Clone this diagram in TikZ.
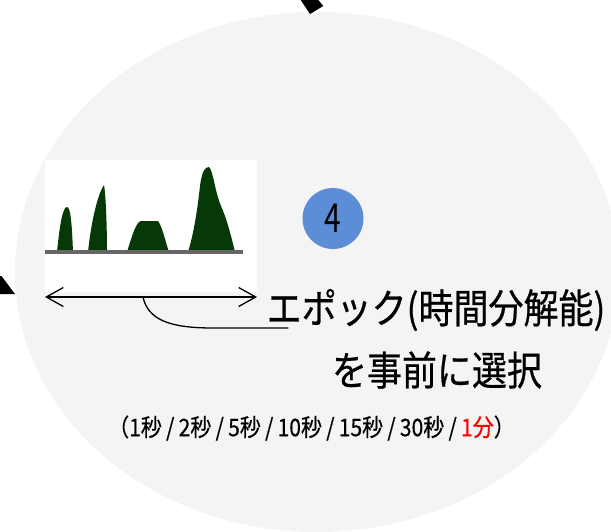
\documentclass[tikz,border=0pt]{standalone}
\usepackage{fontspec}
\usetikzlibrary{arrows.meta,shapes.geometric}
\newfontfamily\jp[FakeBold=0.6]{Noto Sans CJK JP}
\newfontfamily\jpthin{Noto Sans CJK JP}
\definecolor{bg}{HTML}{F4F4F4}
\definecolor{peak}{HTML}{073807}
\definecolor{badge}{HTML}{5B8ED6}
\definecolor{axis}{HTML}{666666}
\newcommand{\tallbox}[1]{\scalebox{1}[1.15]{#1}}
\newcommand{\myslash}{\hspace{4.3pt}/\hspace{4.3pt}}
\tikzset{
  peakfill/.style={fill=peak},
  bigtext/.style={font=\jp\fontsize{35}{40}\selectfont, inner sep=0pt},
  smalltext/.style={font=\jp\fontsize{21}{24}\selectfont, inner sep=0pt},
  badgestyle/.style={circle, fill=badge, minimum size=61pt, inner sep=0pt, font=\jpthin\fontsize{40}{44}\selectfont},
  openarrow/.style={{Straight Barb[length=17pt,width=19pt]}-{Straight Barb[length=17pt,width=19pt]}, line width=1.3pt},
}
\begin{document}
\begin{tikzpicture}[x=1pt,y=-1pt]
\useasboundingbox (0,0) rectangle (611,531);
% background disc
\fill[bg] (317,272) ellipse [x radius=302, y radius=260];
% clipped black arrow parts
\fill[black] (300.7,0) -- (318.3,0) -- (323.3,6) -- (310,14) -- cycle;
\fill[black] (0,276) -- (1.5,276) -- (15,294) -- (0,294) -- cycle;
% chart panel
\node[fill=white, minimum width=212pt, minimum height=132pt, inner sep=0pt, anchor=north west] (chart) at (45,160) {};
\fill[peakfill] (57,252) .. controls (60,222) and (63,207) .. (67,207) .. controls (71,207) and (72,228) .. (73,252) -- cycle;
\fill[peakfill] (88,252) .. controls (92,215) and (99,192) .. (104,185) .. controls (106,196) and (107,230) .. (107,252) -- cycle;
\fill[peakfill] (127,252) .. controls (132,236) and (136,222) .. (141,221) -- (158,221) .. controls (162,226) and (165,240) .. (169,252) -- cycle;
\fill[peakfill] (188,252) .. controls (193,236) and (197,214) .. (200,186) .. controls (202,171) and (205,167) .. (209,167) .. controls (213,170) and (215,192) .. (221,206) .. controls (228,222) and (232,240) .. (235,252) -- cycle;
\draw[axis, line width=3.5pt] (45,252) -- (243,252);
% epoch arrow
\coordinate (aL) at (45,297);
\coordinate (aR) at (257,297);
\coordinate (aM) at (143,297);
\draw[openarrow] (aL) -- (aR);
% badge
\node[badgestyle] (badge) at (333,218.5) {\scalebox{0.75}[1]{4}};
% texts
\node[bigtext] (t1) at (436,310) {\tallbox{エポック(時間分解能)}};
\node[bigtext] (t2) at (437,370) {\tallbox{を事前に選択}};
\node[smalltext] (t3) at (311.5,428) {\tallbox{（1秒\myslash 2秒\myslash 5秒\myslash 10秒\myslash 15秒\myslash 30秒\myslash\textcolor{red}{1分}）}};
% connector from arrow to label
\coordinate (cEnd) at ([xshift=22pt,yshift=-18pt]t1.west);
\draw[line width=1.3pt] (aM) .. controls (148,320) and (170,328) .. (213,328) -- (cEnd);
\end{tikzpicture}
\end{document}
